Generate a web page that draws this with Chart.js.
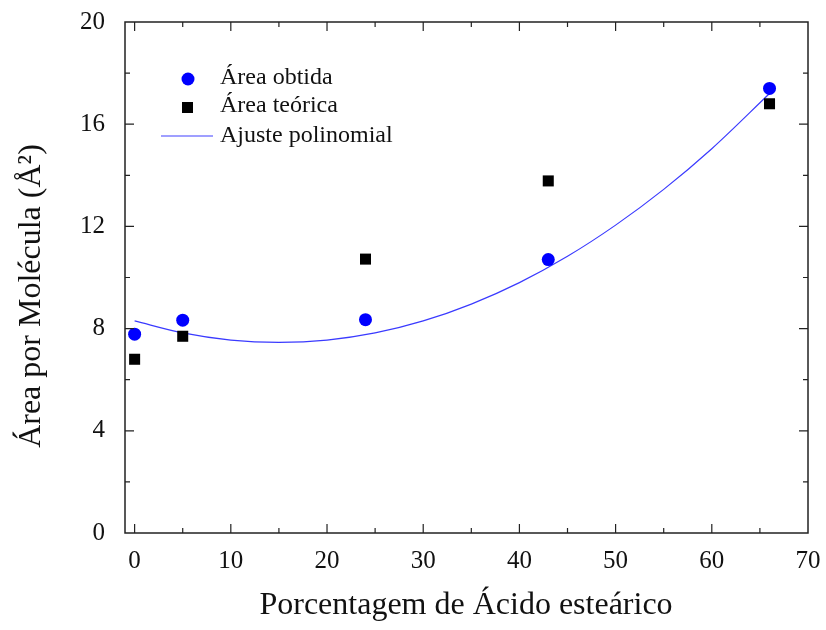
<!DOCTYPE html>
<html>
<head>
<meta charset="utf-8">
<script src="https://cdn.jsdelivr.net/npm/chart.js@4.4.1/dist/chart.umd.min.js"></script>
<style>
  html, body { margin: 0; padding: 0; background: #fff; }
  #wrap { width: 826px; height: 630px; }
</style>
</head>
<body>
<div id="wrap"><canvas id="chart" width="826" height="630"></canvas></div>
<script>
// dados
const xValues = [0, 5, 24, 43, 66];
const areaObtida = [7.78, 8.33, 8.35, 10.7, 17.4];
const areaTeorica = [6.8, 7.7, 10.72, 13.78, 16.8];

// curva do ajuste polinomial
const fitX = [0, 5, 10, 15, 20, 25, 30, 35, 40, 45, 50, 55, 60, 66];
const fitY = [8.30, 7.83, 7.55, 7.46, 7.55, 7.83, 8.30, 8.96, 9.80, 10.83, 12.05, 13.45, 15.04, 17.2];

const xTicks = [0, 10, 20, 30, 40, 50, 60, 70];
const xMinor = [5, 15, 25, 35, 45, 55, 65];
const yTicks = [0, 4, 8, 12, 16, 20];
const yMinor = [2, 6, 10, 14, 18];

const serif = '"Liberation Serif", "Times New Roman", serif';

const toPts = (xs, ys) => xs.map((x, i) => ({ x: x, y: ys[i] }));

// moldura com ticks para dentro + títulos + legenda
const framePlugin = {
    id: 'frame',
    afterDraw(chart) {
        const ctx = chart.ctx;
        const a = chart.chartArea;
        const xs = chart.scales.x, ys = chart.scales.y;
        ctx.save();
        ctx.strokeStyle = '#222';
        ctx.lineWidth = 1.5;
        ctx.strokeRect(a.left, a.top, a.right - a.left, a.bottom - a.top);

        const tick = (len, list, horiz) => {
            list.forEach(v => {
                ctx.beginPath();
                if (horiz) {
                    const px = xs.getPixelForValue(v);
                    ctx.moveTo(px, a.bottom); ctx.lineTo(px, a.bottom - len);
                    ctx.moveTo(px, a.top); ctx.lineTo(px, a.top + len);
                } else {
                    const py = ys.getPixelForValue(v);
                    ctx.moveTo(a.left, py); ctx.lineTo(a.left + len, py);
                    ctx.moveTo(a.right, py); ctx.lineTo(a.right - len, py);
                }
                ctx.stroke();
            });
        };
        ctx.lineWidth = 1.2;
        tick(9, xTicks.slice(0, -1), true);
        tick(5, xMinor, true);
        tick(9, yTicks.slice(1, -1), false);
        tick(5, yMinor, false);

        // títulos dos eixos
        ctx.fillStyle = '#111';
        ctx.font = '32px ' + serif;
        ctx.textAlign = 'center';
        ctx.textBaseline = 'middle';
        ctx.fillText('Porcentagem de Ácido esteárico', 466, 606);
        ctx.save();
        ctx.translate(32, 296);
        ctx.rotate(-Math.PI / 2);
        ctx.fillText('Área por Molécula (Å²)', 0, 0);
        ctx.restore();

        // legenda
        ctx.font = '24px ' + serif;
        ctx.textAlign = 'left';
        ctx.fillText('Área obtida', 220, 78);
        ctx.fillText('Área teórica', 220, 106);
        ctx.fillText('Ajuste polinomial', 220, 136);
        ctx.fillStyle = '#0000ff';
        ctx.beginPath(); ctx.arc(188, 79, 6.5, 0, Math.PI * 2); ctx.fill();
        ctx.fillStyle = '#000';
        ctx.fillRect(182, 102, 11, 11);
        ctx.strokeStyle = '#4040ff';
        ctx.lineWidth = 1.2;
        ctx.beginPath(); ctx.moveTo(161, 136); ctx.lineTo(213, 136); ctx.stroke();
        ctx.restore();
    }
};

new Chart(document.getElementById('chart'), {
    type: 'scatter',
    data: {
        datasets: [
            {
                label: 'Ajuste polinomial', type: 'line', data: toPts(fitX, fitY),
                borderColor: '#3a3aff', borderWidth: 1.2, pointRadius: 0,
                fill: false, tension: 0.4, cubicInterpolationMode: 'monotone', order: 3
            },
            {
                label: 'Área teórica', data: toPts(xValues, areaTeorica),
                pointStyle: 'rect', pointRadius: 7.8, backgroundColor: '#000', borderColor: '#000',
                borderWidth: 0, order: 2
            },
            {
                label: 'Área obtida', data: toPts(xValues, areaObtida),
                pointStyle: 'circle', pointRadius: 6.5, backgroundColor: '#0000ff', borderColor: '#0000ff',
                borderWidth: 0, order: 1
            }
        ]
    },
    options: {
        responsive: false,
        animation: false,
        layout: { padding: { top: 22, right: 18, left: 0, bottom: 0 } },
        plugins: { legend: { display: false }, tooltip: { enabled: false } },
        scales: {
            x: {
                type: 'linear', min: -1, max: 70,
                grid: { display: false },
                border: { display: false },
                afterBuildTicks: s => { s.ticks = xTicks.map(v => ({ value: v })); },
                afterFit: s => { s.height = 97; s.paddingLeft = 0; s.paddingRight = 0; },
                ticks: { color: '#111', font: { family: serif, size: 25 }, padding: 5, maxRotation: 0 }
            },
            y: {
                type: 'linear', min: 0, max: 20,
                grid: { display: false },
                border: { display: false },
                afterBuildTicks: s => { s.ticks = yTicks.map(v => ({ value: v })); },
                afterFit: s => { s.width = 125; s.paddingTop = 0; s.paddingBottom = 0; },
                ticks: { color: '#111', font: { family: serif, size: 25 }, padding: 12 }
            }
        }
    },
    plugins: [framePlugin]
});
</script>
</body>
</html>
